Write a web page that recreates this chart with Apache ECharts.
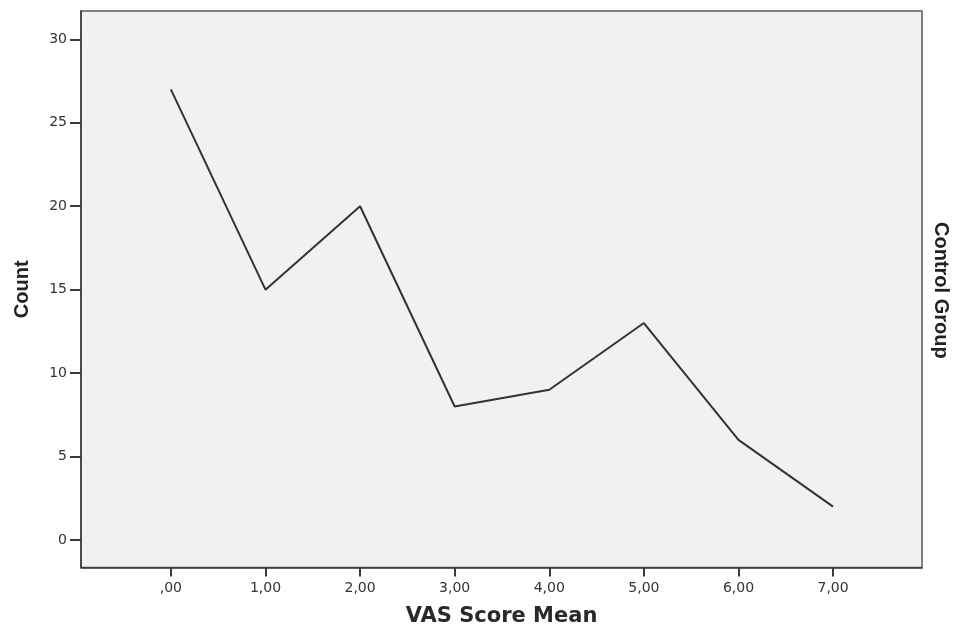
<!DOCTYPE html>
<html><head><meta charset="utf-8">
<script src="https://cdn.jsdelivr.net/npm/echarts@6/dist/echarts.min.js"></script>
<style>html,body{margin:0;padding:0;background:#fff}#c{width:953px;height:628px}</style>
</head><body><div id="c"></div>
<script>
const xValues = [0, 1, 2, 3, 4, 5, 6, 7];
const counts = [27, 15, 20, 8, 9, 13, 6, 2];
const yTicks = [0, 5, 10, 15, 20, 25, 30];
const xTicks = [0, 1, 2, 3, 4, 5, 6, 7];
const xTitle = 'VAS Score Mean';
const yTitle = 'Count';
const panelTitle = 'Control Group';

function fmt(v){ const s = v.toFixed(2).replace('.', ','); return s.startsWith('0,') ? s.slice(1) : s; }

const chart = echarts.init(document.getElementById('c'));
chart.setOption({
  animation: false,
  grid: { left: 81, top: 11, right: 31, bottom: 60.5, outerBoundsMode: 'none', containLabel: false, show: true, backgroundColor: '#f0f1f3', borderColor: '#5a5a5a', borderWidth: 1.5 },
  xAxis: {
    type: 'value', min: -0.95, max: 7.94,
    name: xTitle, nameLocation: 'middle', nameGap: 39,
    nameTextStyle: { fontFamily: 'DejaVu Sans', fontWeight: 'bold', fontSize: 21, color: '#2a2a2a' },
    axisLine: { show: true, onZero: false, lineStyle: { color: '#3a3a3a', width: 1.5 } },
    axisTick: { show: true, inside: false, length: 9, customValues: xTicks, lineStyle: { color: '#3a3a3a', width: 2 } },
    axisLabel: { customValues: xTicks, formatter: fmt, fontFamily: 'DejaVu Sans', fontSize: 14, color: '#333', margin: 14 },
    splitLine: { show: false }
  },
  yAxis: {
    type: 'value', min: -1.65, max: 31.7,
    name: yTitle, nameLocation: 'middle', nameGap: 49, nameRotate: 90,
    nameTextStyle: { fontFamily: 'Liberation Sans', fontWeight: 'bold', fontSize: 20, color: '#222' },
    axisLine: { show: true, onZero: false, lineStyle: { color: '#3a3a3a', width: 1.5 } },
    axisTick: { show: true, inside: false, length: 11, customValues: yTicks, lineStyle: { color: '#3a3a3a', width: 2 } },
    axisLabel: { customValues: yTicks, fontFamily: 'DejaVu Sans', fontSize: 14, color: '#333', margin: 14 },
    splitLine: { show: false }
  },
  graphic: [{
    type: 'text', left: 931, top: 222, rotation: -Math.PI/2,
    style: { text: panelTitle, fontFamily: 'Liberation Sans', fontWeight: 'bold', fontSize: 20, fill: '#222' }
  }],
  series: [{
    type: 'line', data: xValues.map((x,i)=>[x, counts[i]]),
    symbol: 'none', lineStyle: { color: '#333', width: 2 }
  }]
});
</script></body></html>
